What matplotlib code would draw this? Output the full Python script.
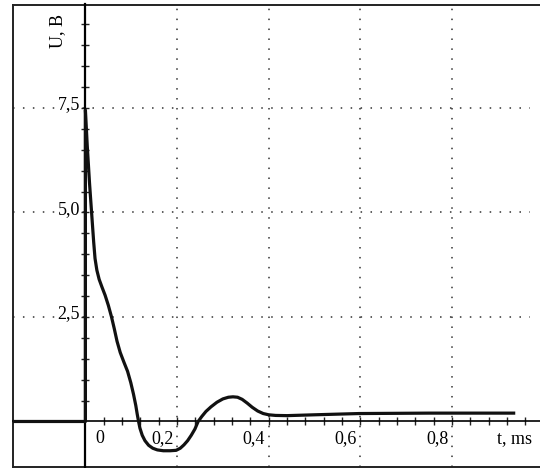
import matplotlib.pyplot as plt
from matplotlib.lines import Line2D

# signal: time in ms, voltage in V
t_ms = [-0.158, 0.0, 0.0, 0.004, 0.009, 0.0135, 0.018, 0.021, 0.025, 0.030,
        0.036, 0.043, 0.050, 0.057, 0.063, 0.069, 0.076, 0.084, 0.092, 0.099,
        0.105, 0.110, 0.113, 0.116, 0.119, 0.124, 0.130, 0.138, 0.147, 0.157,
        0.170, 0.185, 0.198, 0.207, 0.215, 0.223, 0.231, 0.239, 0.246, 0.254,
        0.263, 0.274, 0.287, 0.300, 0.312, 0.322, 0.332, 0.342, 0.353, 0.364,
        0.376, 0.388, 0.400, 0.415, 0.44, 0.50, 0.597, 0.75, 0.938]
u_v = [0.0, 0.0, 7.45, 6.6, 5.7, 5.0, 4.3, 3.9, 3.62, 3.4,
       3.22, 3.02, 2.78, 2.5, 2.22, 1.92, 1.65, 1.42, 1.2, 0.93,
       0.65, 0.38, 0.18, 0.0, -0.16, -0.33, -0.46, -0.57, -0.64, -0.68,
       -0.70, -0.70, -0.69, -0.64, -0.56, -0.46, -0.33, -0.18, 0.0, 0.12,
       0.24, 0.35, 0.46, 0.54, 0.58, 0.59, 0.58, 0.53, 0.44, 0.34,
       0.25, 0.19, 0.16, 0.145, 0.14, 0.16, 0.19, 0.2, 0.2]

x_grid = [0.2, 0.4, 0.6, 0.8]
x_labels = ["0,2", "0,4", "0,6", "0,8"]
y_grid = [2.5, 5.0, 7.5]
y_labels = ["2,5", "5,0", "7,5"]

plt.rcParams['font.family'] = ['Liberation Serif', 'DejaVu Serif']

fig = plt.figure(figsize=(5.4, 4.68), dpi=100)
ax = fig.add_axes([13 / 540, 1.5 / 468, 527 / 540, 462 / 468])
ax.set_xlim(-0.158, 0.992)
ax.set_ylim(-1.077, 9.976)

# frame: left, top, bottom only
ax.spines['right'].set_visible(False)
ax.spines['top'].set_visible(False)
for (x0, y0, x1, y1) in [(0, 0, 0, 1), (0, 1, 1, 1), (0, 0, 1, 0)]:
    ax.add_line(Line2D([x0, x1], [y0, y1], transform=ax.transAxes,
                       color='#222222', lw=1.4, clip_on=False))

# axes through origin
ax.spines['left'].set_position(('data', 0))
ax.spines['bottom'].set_position(('data', 0))
ax.spines['left'].set_linewidth(1.6)
ax.spines['bottom'].set_linewidth(1.2)
ax.spines['left'].set_zorder(4)

ax.set_xticks([0.04 * i for i in range(1, 25)])
ax.set_yticks([0.5 * i for i in range(1, 20)])
ax.tick_params(axis='both', direction='inout', length=6, width=1,
               labelbottom=False, labelleft=False, color='#222222')

# dotted grid
for g in x_grid:
    ax.axvline(g, color='#333333', lw=1.1, ls=(0, (1, 5.5)), zorder=1)
for g in y_grid:
    ax.plot([-0.158, 0.97], [g, g], color='#333333', lw=1.1,
            ls=(0, (1, 5.5)), zorder=1)

ax.plot(t_ms, u_v, color='#111111', lw=2.3, zorder=5,
        solid_joinstyle='round', solid_capstyle='butt')

# labels
fs = 13
ax.text(0.032, -0.4, "0", ha='center', va='center', fontsize=fs)
for g, lab in zip(x_grid, x_labels):
    ax.text(g - 0.008, -0.4, lab, ha='right', va='center', fontsize=fs)
ax.text(0.936, -0.4, "t, ms", ha='center', va='center', fontsize=fs)
for g, lab in zip(y_grid, y_labels):
    ax.text(-0.012, g + 0.08, lab, ha='right', va='center', fontsize=fs,
            bbox=dict(fc='white', ec='none', pad=0.3), zorder=3)
ax.text(-0.06, 9.34, "U, B", ha='center', va='center', rotation=90,
        fontsize=fs)

fig.savefig('out.png', dpi=100)
